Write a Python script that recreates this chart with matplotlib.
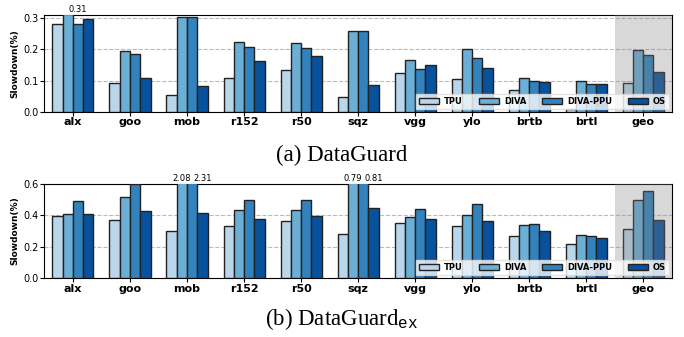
import numpy as np
import matplotlib
matplotlib.use("Agg")
import matplotlib.pyplot as plt

# benchmarks and schemes
categories = ['alx', 'goo', 'mob', 'r152', 'r50', 'sqz', 'vgg', 'ylo', 'brtb', 'brtl', 'geo']
schemes = ['TPU', 'DIVA', 'DIVA-PPU', 'OS']
colors = ['#bad6eb', '#6baed6', '#3182bd', '#08519c']

# (a) DataGuard slowdown
dg_tpu = [0.283, 0.091, 0.054, 0.109, 0.134, 0.048, 0.124, 0.104, 0.070, 0.010, 0.094]
dg_diva = [0.314, 0.195, 0.304, 0.224, 0.220, 0.260, 0.166, 0.201, 0.109, 0.100, 0.198]
dg_ppu = [0.282, 0.184, 0.304, 0.209, 0.204, 0.260, 0.139, 0.173, 0.098, 0.089, 0.181]
dg_os = [0.298, 0.109, 0.082, 0.163, 0.180, 0.087, 0.149, 0.140, 0.096, 0.088, 0.129]

# (b) DataGuard_ex slowdown
ex_tpu = [0.394, 0.373, 0.299, 0.333, 0.367, 0.282, 0.348, 0.329, 0.267, 0.216, 0.316]
ex_diva = [0.411, 0.515, 2.08, 0.433, 0.433, 0.79, 0.388, 0.405, 0.337, 0.276, 0.501]
ex_ppu = [0.494, 0.598, 2.31, 0.496, 0.496, 0.81, 0.439, 0.471, 0.346, 0.267, 0.554]
ex_os = [0.407, 0.428, 0.414, 0.378, 0.397, 0.448, 0.375, 0.361, 0.299, 0.254, 0.371]

plt.rcParams['font.family'] = 'DejaVu Sans'
plt.rcParams['mathtext.fontset'] = 'custom'
plt.rcParams['mathtext.tt'] = 'Liberation Mono'
plt.rcParams['mathtext.rm'] = 'Liberation Serif'

fig = plt.figure(figsize=(6.84, 3.37), dpi=100)
ax1 = fig.add_axes([0.065, 0.668, 0.917, 0.287])
ax2 = fig.add_axes([0.065, 0.175, 0.917, 0.279])

width = 0.18
x = np.arange(len(categories))


def draw(ax, series, ymax, yticks, label_shift):
    for i, (vals, name, c) in enumerate(zip(series, schemes, colors)):
        pos = x + (i - 1.5) * width
        ax.bar(pos, vals, width, color=c, edgecolor='#222222', linewidth=1.0,
               label=name, zorder=3)
        # clipped bars get their value written above the frame
        for p, v in zip(pos, vals):
            if v > ymax:
                ax.text(p + label_shift[i] * width, ymax * 1.015, f"{v:.2f}",
                        ha='center', va='bottom', fontsize=6)
    ax.axvspan(9.5, 10.5, color='gray', alpha=0.3, zorder=4, linewidth=0)
    ax.set_xlim(-0.5, 10.5)
    ax.set_ylim(0, ymax)
    ax.set_yticks(yticks)
    ax.set_yticklabels([f"{t:.1f}" for t in yticks], fontsize=7)
    ax.set_xticks(x)
    ax.set_xticklabels(categories, fontsize=8, fontweight='bold')
    ax.tick_params(axis='x', length=3, pad=1)
    ax.tick_params(axis='y', length=3, pad=1)
    ax.yaxis.grid(True, linestyle='--', color='#bbbbbb', linewidth=0.8, zorder=0)
    ax.set_axisbelow(True)
    ax.set_ylabel('Slowdown(%)', fontsize=6.5, fontweight='bold', labelpad=3)
    leg = ax.legend(loc='lower right', ncol=4, fontsize=6, frameon=True,
                    framealpha=0.8, edgecolor='#dddddd', fancybox=False,
                    handlelength=2.4, handleheight=0.75, handletextpad=0.6,
                    columnspacing=1.9, borderaxespad=0.35, borderpad=0.35)
    leg.set_zorder(10)
    for t in leg.get_texts():
        t.set_fontweight('bold')
    for h in leg.legend_handles:
        h.set_edgecolor('#222222')


draw(ax1, [dg_tpu, dg_diva, dg_ppu, dg_os], 0.31, [0.0, 0.1, 0.2, 0.3], [0, 1.0, 0, 0])
draw(ax2, [ex_tpu, ex_diva, ex_ppu, ex_os], 0.6, [0.0, 0.2, 0.4, 0.6], [0, 0, 1.0, 0])

fig.text(0.5, 0.522, '(a) DataGuard', ha='center', va='baseline',
         fontsize=16.5, family='Liberation Serif')
fig.text(0.5, 0.036, r'(b) DataGuard$_{\mathtt{ex}}$', ha='center', va='baseline',
         fontsize=16.5, family='Liberation Serif')

fig.savefig('out.png', dpi=100)
